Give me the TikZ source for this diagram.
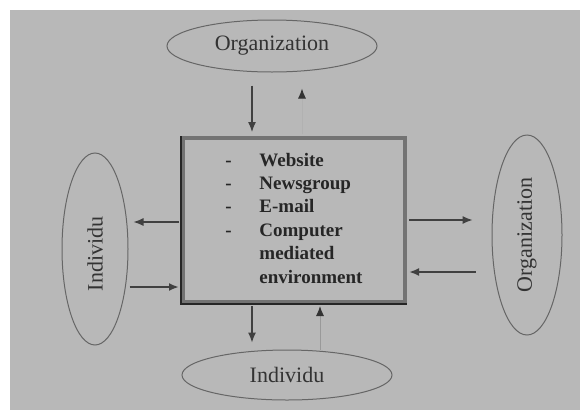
\documentclass[tikz,border=0pt]{standalone}
\usepackage{fontspec}
\setmainfont{Liberation Serif}
\usepackage{tikz}
\usetikzlibrary{shapes.geometric, arrows.meta, positioning}
\definecolor{scangray}{HTML}{B8B8B8}

\begin{document}
\begin{tikzpicture}[
        x=1pt, y=-1pt,
        oval/.style={ellipse, draw=black!60, line width=1pt, inner sep=0pt, font=\fontsize{22}{24}\selectfont, text=black!80},
        ovaltext/.style={font=\fontsize{22}{24}\selectfont, text=black!80, inner sep=0pt},
        centre/.style={rectangle, draw=black!55, line width=4pt, fill=scangray, minimum width=222pt, minimum height=164pt, align=left, font=\bfseries\fontsize{19}{23.4}\selectfont, text=black!85},
        arr/.style={-{Latex[length=10pt, width=8pt]}, line width=1.2pt, draw=black!75},
        tarr/.style={arr, line width=2.2pt},
        farr/.style={-{Latex[length=10pt, width=8pt, color=black!80]}, line width=1pt, draw=black!40},
    ]
    \useasboundingbox (0,0) rectangle (580,410);
    \fill[scangray] (10,10) rectangle (580,410);

    % Centre box
    \node[centre] (media) at (294,220) {%
        \begin{tabular}{@{}p{34pt}@{}l@{}}
        - & Website\\
        - & Newsgroup\\
        - & E-mail\\
        - & Computer\\
          & mediated\\
          & environment
        \end{tabular}};
    \draw[black!85, line width=2.5pt] (media.north west) |- (media.south east);

    % Ellipses
    \node[oval, minimum width=210pt, minimum height=52pt] (orgtop) at (272,46) {Organization};
    \node[oval, minimum width=66pt, minimum height=192pt] (indleft) at (95,249) {};
    \node[ovaltext, rotate=90] (indlefttxt) at ([yshift=-5pt]indleft.center) {Individu};
    \node[oval, minimum width=70pt, minimum height=200pt] (orgright) at (527,235) {};
    \node[ovaltext, rotate=90] (orgrighttxt) at (orgright.center) {Organization};
    \node[oval, minimum width=210pt, minimum height=50pt] (indbottom) at (287,375) {Individu};

    % Arrows
    \draw[arr, shorten <=13pt, shorten >=4pt] ([xshift=-20pt]orgtop.south) -- ([xshift=-20pt]orgtop.south |- media.north);
    \draw[farr, draw=scangray!96!black, shorten <=2pt, shorten >=16pt] ([xshift=8pt]media.north) -- ([xshift=8pt]media.north |- orgtop.south);
    \draw[arr, shorten <=2pt, shorten >=5pt] ([yshift=-2pt]media.west) -- ([yshift=-2pt]media.west -| indleft.east);
    \draw[tarr, shorten <=1pt, shorten >=2pt] ([yshift=-67pt]media.west -| indleft.east) -- ([yshift=-67pt]media.west);
    \draw[arr, shorten <=2pt, shorten >=19pt] (media.east) -- (media.east -| orgright.west);
    \draw[tarr, shorten <=16pt, shorten >=2pt] ([yshift=-52pt]media.east -| orgright.west) -- ([yshift=-52pt]media.east);
    \draw[arr, shorten <=2pt, shorten >=7pt] ([xshift=-42pt]media.south) -- ([xshift=-42pt]media.south |- indbottom.north);
    \draw[farr, shorten >=2pt] ([xshift=26pt]media.south |- indbottom.north) -- ([xshift=26pt]media.south);
\end{tikzpicture}
\end{document}
